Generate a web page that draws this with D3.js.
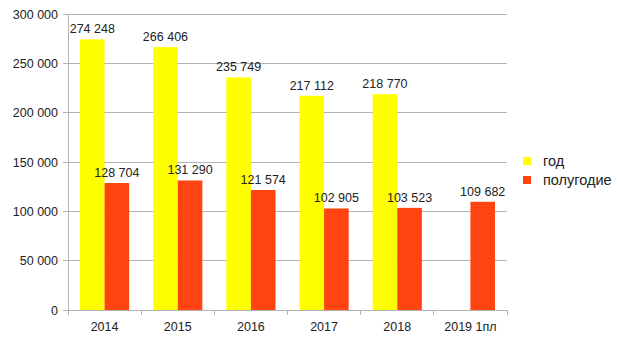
<!DOCTYPE html>
<html><head><meta charset="utf-8">
<script src="https://cdn.jsdelivr.net/npm/d3@7"></script>
<style>body{margin:0;background:#fff}svg{display:block}text{font-family:"Liberation Sans",Arial,sans-serif;fill:#222}</style>
</head><body>
<script>
const categories = ["2014","2015","2016","2017","2018","2019 1пл"];
const yearValues = [274248, 266406, 235749, 217112, 218770, null];
const halfValues = [128704, 131290, 121574, 102905, 103523, 109682];
const seriesNames = ["год","полугодие"];
const seriesColors = ["#ffff00","#ff4411"];
const yTicks = [0,50000,100000,150000,200000,250000,300000];

(function(){
const W=620,H=341;
const svg=d3.select("body").append("svg").attr("width",W).attr("height",H);
const mL=68,mR=507,mT=14,mB=310;
const x=d3.scaleBand().domain(categories).range([mL,mR]);
const y=d3.scaleLinear().domain([0,300000]).range([mB,mT]);
const fmt=v=>d3.format(",")(v).replace(/,/g," ");

svg.append("g").selectAll("line").data(yTicks).join("line")
  .attr("x1",mL-5).attr("x2",mR).attr("y1",d=>y(d)).attr("y2",d=>y(d))
  .attr("stroke","#b3b3b3").attr("stroke-width",1).attr("shape-rendering","crispEdges");
svg.append("line").attr("x1",mL).attr("x2",mL).attr("y1",mT).attr("y2",mB)
  .attr("stroke","#b3b3b3").attr("shape-rendering","crispEdges");
const xt=categories.map(c=>x(c)).concat([mR]);
svg.append("g").selectAll("line").data(xt).join("line")
  .attr("x1",d=>d).attr("x2",d=>d).attr("y1",mB).attr("y2",mB+5)
  .attr("stroke","#b3b3b3").attr("shape-rendering","crispEdges");
svg.append("g").selectAll("text").data(yTicks).join("text")
  .attr("x",58).attr("y",d=>y(d)+4.5).attr("text-anchor","end")
  .attr("font-size","12.5px").text(fmt);
svg.append("g").selectAll("text").data(categories).join("text")
  .attr("x",d=>x(d)+x.bandwidth()/2).attr("y",mB+21).attr("text-anchor","middle")
  .attr("font-size","12.5px").text(d=>d);

const pad=12, bw=(x.bandwidth()-2*pad)/2;
[yearValues,halfValues].forEach((vals,si)=>{
  const data=categories.map((c,i)=>({c,v:vals[i]})).filter(d=>d.v!=null);
  svg.append("g").selectAll("rect").data(data).join("rect")
    .attr("x",d=>x(d.c)+pad+si*bw).attr("width",bw)
    .attr("y",d=>y(d.v)).attr("height",d=>mB-y(d.v))
    .attr("fill",seriesColors[si]);
  svg.append("g").selectAll("text").data(data).join("text")
    .attr("x",d=>x(d.c)+pad+si*bw+bw/2).attr("y",d=>y(d.v)-6)
    .attr("text-anchor","middle").attr("font-size","12.5px").text(d=>fmt(d.v));
});

const lg=svg.append("g");
seriesNames.forEach((n,i)=>{
  lg.append("rect").attr("x",523).attr("y",157+i*19).attr("width",8).attr("height",8).attr("fill",seriesColors[i]);
  lg.append("text").attr("x",543).attr("y",166+i*19).attr("font-size","14.5px").text(n);
});
})();
</script>
</body></html>
